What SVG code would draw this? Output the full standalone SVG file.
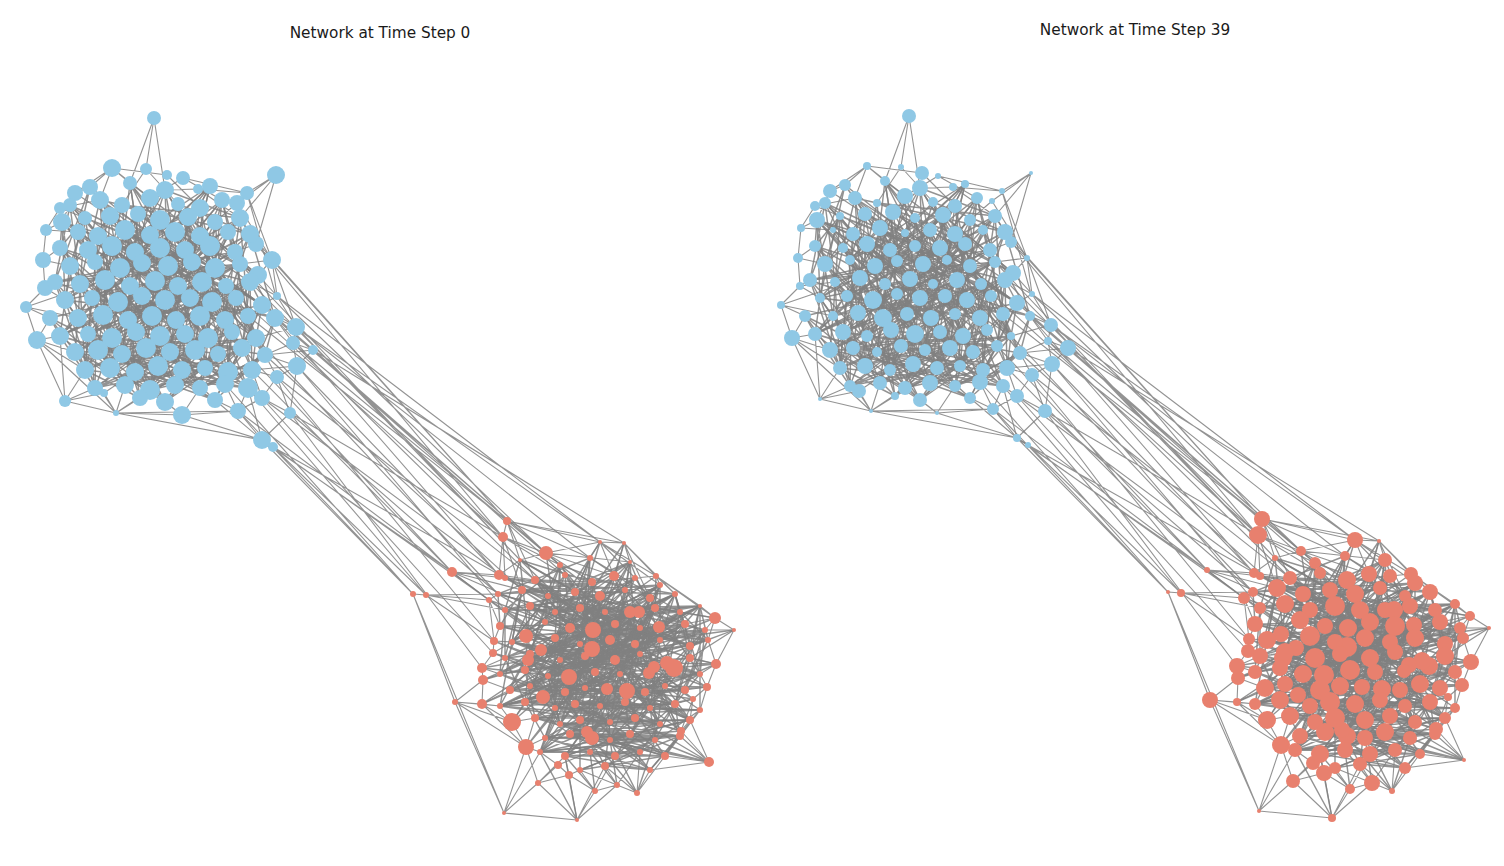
<svg xmlns="http://www.w3.org/2000/svg" xmlns:xlink="http://www.w3.org/1999/xlink" width="1504" height="866" viewBox="0 0 1504 866">
<style>
.e{fill:none;stroke:#808080;stroke-width:1.1;stroke-opacity:0.85;stroke-linejoin:bevel}
.d{stroke-width:1.45}
.b circle{fill:#8fc8e5}
.r circle{fill:#e8806e}
.t{font-family:"DejaVu Sans","Liberation Sans",sans-serif;font-size:15.3px;fill:#1a1a1a;text-anchor:middle}
</style>
<rect width="1504" height="866" fill="#ffffff"/>
<text class="t" x="380" y="38">Network at Time Step 0</text>
<text class="t" x="1135" y="35">Network at Time Step 39</text>
<g id="connectors">
<g id="edgesL">
<path class="e d" d="M90,187L150,235L110,216L185,250L130,183L200,236L122,205L240,218L165,190L226,286L178,204L250,234L100,200L160,248L70,205L135,252L62,222L192,262L85,218L215,268L138,214L258,275L188,217L142,263L222,200L168,266L210,186L120,268L200,208L95,262"/>
<path class="e d" d="M78,232L155,281L98,236L202,282L125,230L178,286L60,248L130,286L88,250L226,286L112,246L250,282L175,232L105,280L228,232L80,284L210,246L55,282L235,252L142,296L240,264L65,300L160,248L236,298L150,235L262,305L185,250L92,298L215,268L118,302"/>
<path class="e d" d="M50,318L142,296L78,318L165,300L103,315L190,298L128,320L212,302L152,316L92,298L176,320L118,302L200,316L65,300L225,320L155,281L248,316L130,286L275,318L178,286L60,336L105,280L88,334L202,282L112,338L80,284L136,332L226,286L160,336L250,282"/>
<path class="e d" d="M185,334L98,350L208,338L122,354L232,332L146,348L256,338L170,352L75,352L195,350L88,334L218,354L112,338L242,348L136,332L265,355L160,336L85,370L185,334L110,368L208,338L135,372L232,332L158,366L60,336L182,370L256,338L205,368L98,350L228,372"/>
<path class="e d" d="M122,354L252,370L146,348L95,388L170,352L125,385L195,350L150,390L218,354L175,385L242,348L200,388L265,355L225,384L75,352L248,388L85,370L140,398L110,368L165,402L135,372L215,400L158,366L95,388L182,370L125,385L205,368L150,390L228,372L175,385"/>
<path class="e d" d="M62,222L78,318L85,218L103,315L110,216L128,320L138,214L152,316L160,220L176,320L188,217L200,316L215,222L225,320L240,218L248,316L222,200L202,282L178,204L155,281L150,198L130,286L122,205L105,280L100,200L80,284L70,205L55,282L90,187L65,300"/>
<path class="e d" d="M130,183L142,263L165,190L168,266L210,186L192,262L200,208L215,268L222,200L240,264L188,217L258,275L160,220L120,268L138,214L95,262L110,216L70,266L85,218L60,248L62,222L88,250L98,236L135,252L125,230L160,248L175,232L185,250L200,236L210,246"/>
<path class="e d" d="M65,300L88,334L92,298L112,338L118,302L136,332L142,296L160,336L165,300L185,334L190,298L208,338L212,302L232,332L236,298L256,338L262,305L242,348L250,282L218,354L226,286L195,350L202,282L170,352L178,286L146,348L155,281L122,354L130,286L98,350"/>
<path class="e d" d="M50,318L75,352L78,318L98,350L103,315L122,354L128,320L146,348L152,316L170,352L176,320L195,350L200,316L218,354L225,320L242,348L248,316L265,355L275,318L252,370L256,338L228,372L232,332L205,368L208,338L182,370L185,334L158,366L160,336L135,372"/>
<path class="e d" d="M136,332L110,368L112,338L85,370L88,334L95,388L60,336L125,385L75,352L150,390L98,350L175,385L122,354L200,388L146,348L225,384L170,352L248,388L195,350L140,398L218,354L165,402L242,348L215,400L265,355L200,388L252,370L225,384L228,372L248,388"/>
<path class="e d" d="M70,205L176,320L240,218L92,298L210,186L118,302L250,234L60,336L200,208L136,332L262,305L100,200L185,334L78,232L232,332L130,183L208,338L55,282L240,264L88,334L226,286L75,352L215,222L160,336L62,222L195,350L165,190L256,338L98,236L242,348"/>
<path class="e d" d="M150,235L110,368L175,232L135,372L200,236L158,366L228,232L182,370L250,234L205,368L125,230L85,370L98,236L95,388L142,263L125,385L168,266L150,390L192,262L175,385L215,268L200,388L240,264L225,384L120,268L140,398L95,262L165,402L70,266L215,400"/>
<path class="e d" d="M90,187L142,263L130,183L120,268L165,190L95,262L210,186L192,262L222,200L142,296L240,218L165,300L70,205L118,302L100,200L190,298L150,198L92,298L178,204L212,302L200,208L65,300L62,222L236,298L110,216L262,305L138,214L78,318L188,217L103,315"/>
<path class="e d" d="M78,232L128,320L98,236L152,316L125,230L176,320L150,235L200,316L175,232L225,320L200,236L248,316L228,232L275,318L250,234L136,332L60,248L160,336L88,250L185,334L112,246L208,338L135,252L232,332L160,248L256,338L185,250L112,338L210,246L88,334"/>
<path class="e d" d="M235,252L60,336L70,266L146,348L95,262L170,352L120,268L195,350L142,263L218,354L168,266L242,348L192,262L265,355L215,268L75,352L240,264L98,350L258,275L122,354L55,282L85,370L80,284L110,368L105,280L135,372L130,286L158,366L155,281L182,370"/>
<path class="e d" d="M178,286L205,368L202,282L228,372L226,286L252,370L250,282L95,388L65,300L125,385L92,298L150,390L118,302L175,385L142,296L200,388L165,300L225,384L190,298L248,388L212,302L140,398L236,298L165,402L262,305L215,400L50,318L110,368L78,318L135,372"/>
<path class="e d" d="M62,222L78,232L85,218L98,236L110,216L125,230L138,214L150,235L160,220L175,232L188,217L200,236L215,222L228,232L240,218L250,234M60,248L70,266L88,250L95,262L112,246L120,268L135,252L142,263L160,248L168,266L185,250L192,262L210,246L215,268L235,252L240,264M55,282L65,300L80,284L92,298L105,280L118,302L130,286L142,296L155,281L165,300L178,286L190,298L202,282L212,302L226,286L236,298L250,282L262,305M50,318L60,336L78,318L88,334L103,315L112,338L128,320L136,332L152,316L160,336L176,320L185,334L200,316L208,338L225,320L232,332L248,316L256,338M75,352L85,370L98,350L110,368L122,354L135,372L146,348L158,366L170,352L182,370L195,350L205,368L218,354L228,372L242,348L252,370"/>
<path class="e" d="M154,118L130,183M154,118L146,169M154,118L165,190M112,168L90,187M112,168L130,183M112,168L150,198M112,168L75,193M112,168L167,175M112,168L100,200M146,169L122,205M146,169L178,204M167,175L200,208M183,178L222,200M183,178L150,198M198,189L240,218M198,189L165,190M198,189L247,193M276,175L247,193M276,175L237,203M276,175L240,218M276,175L256,244M247,193L183,178M247,193L272,260M237,203L215,222M237,203L272,260M75,193L90,187M75,193L62,222M75,193L110,216M60,208L85,218M60,208L46,230M60,208L100,200M46,230L78,232M46,230L43,260M46,230L62,222M43,260L60,248M43,260L70,266M43,260L45,288M45,288L80,284M45,288L26,307M45,288L65,300M45,288L55,282M26,307L50,318M26,307L78,318M26,307L37,340M26,307L105,280M37,340L60,336M37,340L75,352M37,340L65,401M37,340L50,318M37,340L85,370M37,340L116,413M65,401L104,393M65,401L116,413M65,401L85,370M65,401L95,388M65,401L60,336M116,413L104,393M116,413L125,385M116,413L150,390M116,413L182,415M116,413L262,440M116,413L140,398M116,413L75,352M116,413L238,411M104,393L95,388M104,393L135,372M182,415L165,402M182,415L200,388M182,415L238,411M182,415L262,440M182,415L150,390M238,411L215,400M238,411L262,398M238,411L248,388M238,411L262,440M238,411L225,384M262,398L252,370M262,398L290,413M262,398L277,377M262,398L248,388M290,413L277,377M290,413L262,440M290,413L297,366M262,440L273,447M262,440L215,400M262,440L248,388M297,366L277,377M297,366L265,355M297,366L313,350M297,366L293,343M297,366L252,370M296,327L275,318M296,327L262,305M296,327L293,343M296,327L277,296M296,327L256,338M313,350L293,343M313,350L265,355M277,296L262,305M277,296L250,282M277,296L272,260M277,296L258,275M272,260L258,275M272,260L240,264M272,260L256,244M272,260L296,327M256,244L235,252M256,244L240,218M256,244L250,234M277,377L252,370M277,377L265,355M293,343L265,355M293,343L275,318M247,193L276,296"/>
<path class="e" d="M272,260L507,521M256,244L503,537M277,296L546,553M296,327L600,542M296,327L520,560M293,343L507,521M313,350L560,565M297,366L499,575M277,377L535,580M262,398L505,578M290,413L503,537M262,440L413,594M273,447L426,595M262,440L452,572M238,411L413,594M273,447L489,600M290,413L498,594M250,282L503,537M262,305L546,553M275,318L499,575M265,355L522,590M248,388L426,595M252,370L452,572M240,264L520,560M248,316L507,521M277,296L600,542M313,350L624,543M297,366L505,610M277,377L494,641M262,398L493,653M290,413L482,668M273,447L505,578M238,411L489,600M293,343L535,580M275,318L560,565M256,338L498,594M242,348L452,572M225,384L413,594M226,286L503,537M250,234L507,521M296,327L590,558M313,350L565,575"/>
<path class="e d" d="M520,560L592,582L535,580L625,590L505,578L600,596L560,565L650,598L590,558L575,592L630,562L548,596L565,575L675,594L522,590L635,578L498,594L660,585L530,606L580,608L555,612L655,608L505,610L605,612L680,612L545,622L700,606L570,628L615,624L500,626"/>
<path class="e d" d="M640,628L512,642L685,624L555,638L705,630L580,644L610,640L530,654L635,644L505,658L660,640L560,660L690,646L585,656L708,640L615,660L500,674L640,654L525,670L690,658L548,676L595,672L620,674L700,674L510,690L645,692L530,686L665,686L565,692L685,690"/>
<path class="e d" d="M585,688L500,706L625,702L525,702L650,708L555,708L675,704L575,704L700,710L600,706L535,718L635,718L560,724L660,724L580,720L690,720L610,722L545,738L630,734L570,734L655,740L610,740L680,736L540,752L640,752L565,756L665,756L590,752L615,756L580,770"/>
<path class="e d" d="M605,766L650,770L565,756L630,734L540,752L655,740L545,738L680,736L570,734L640,752L610,740L690,720L560,724L665,756L535,718L700,710L555,708L660,724L525,702L635,718L500,706L610,722L580,720L650,708L575,704L625,702L600,706L675,704L585,688L645,692"/>
<path class="e d" d="M520,560L505,610L560,565L555,638L590,558L580,644L630,562L635,644L660,585L660,640L675,594L690,646L700,606L708,640L680,612L685,624L655,608L640,628L605,612L615,624L580,608L570,628L530,606L545,622L498,594L500,626L522,590L512,642L548,596L530,654"/>
<path class="e d" d="M505,658L525,702L530,654L555,708L560,660L575,704L585,656L600,706L615,660L625,702L640,654L650,708L690,658L675,704L700,674L700,710L665,686L690,720L645,692L660,724L620,674L635,718L595,672L610,722L565,692L580,720L548,676L560,724L525,670L535,718"/>
<path class="e d" d="M500,626L700,674L512,642L685,690L522,590L665,686L535,580L645,692L565,575L620,674L592,582L595,672L635,578L548,676L660,585L525,670L650,598L500,674L675,594L510,690L700,606L530,686L708,640L565,692L705,630L585,688L685,624L500,706L680,612L525,702"/>
<path class="e d" d="M555,612L690,720L580,608L660,724L605,612L635,718L630,612L610,722L655,608L580,720L593,630L560,724L592,649L535,718L569,677L545,738L627,691L570,734L607,689L610,740L674,668L630,734L667,663L655,740L654,667L680,736L649,673L540,752L659,627L565,756"/>
<path class="e d" d="M593,630L526,636L592,649L541,650L569,677L528,660L627,691L543,697L607,689L592,738L674,668L587,732L667,663L630,612L654,667L639,612L649,673L614,576L659,627L593,630L630,612L592,649L639,612L569,677L614,576L526,636L659,627L541,650L674,668L528,660"/>
<path class="e d" d="M505,578L640,654L530,606L690,658L555,612L615,660L500,626L660,640L545,622L708,640L570,628L505,658L615,624L530,654L685,624L560,660L640,628L585,656L705,630L548,676L600,596L525,670L625,590L595,672L650,598L620,674L675,594L700,674L635,578L500,674"/>
<path class="e d" d="M560,565L610,640L535,580L580,644L592,582L512,642L630,562L555,638L660,585L635,644L575,592L690,646L548,596L660,640L498,594L590,558L680,612L522,590L655,608L605,612L700,606L580,608L650,598L555,612L625,590L530,606L600,596L505,610L575,592L520,560"/>
<path class="e d" d="M510,690L600,706L530,686L625,702L565,692L650,708L585,688L675,704L645,692L555,708L665,686L525,702L685,690L575,704L700,674L500,706L620,674L535,718L595,672L560,724L548,676L580,720L525,670L610,722L500,674L635,718L505,658L660,724L530,654L690,720"/>
<path class="e d" d="M545,738L635,718L570,734L660,724L610,740L690,720L630,734L535,718L655,740L560,724L680,736L580,720L540,752L610,722L565,756L630,734L590,752L545,738L615,756L570,734L640,752L610,740L665,756L580,770L655,740L605,766L680,736L650,770L590,752L540,752"/>
<path class="e d" d="M520,560L530,654L560,565L560,660L590,558L585,656L630,562L615,660L660,585L640,654L675,594L690,658L700,606L700,674L705,630L685,690L708,640L675,704L690,646L650,708L660,640L625,702L635,644L600,706L610,640L575,704L580,644L555,708L555,638L525,702"/>
<path class="e d" d="M512,642L500,706L545,622L510,690L570,628L530,686L615,624L565,692L640,628L585,688L685,624L645,692L705,630L665,686L680,612L620,674L655,608L595,672L605,612L548,676L580,608L525,670L530,606L500,674L505,610L505,658L522,590L512,642L548,596L545,622"/>
<path class="e d" d="M600,706L565,756L625,702L590,752L650,708L615,756L675,704L640,752L700,710L665,756L575,704L540,752L555,708L545,738L525,702L570,734L600,706L610,740L625,702L630,734L650,708L655,740L675,704L680,736L700,710L650,770L610,722L605,766L580,720L580,770"/>
<path class="e d" d="M593,630L540,752L592,649L665,756L569,677L700,606L627,691L505,610L607,689L630,562L674,668L500,706L667,663L535,580L654,667L512,642L649,673L560,565L526,636L690,720L541,650L675,594L528,660L650,770L543,697L640,628L592,738L600,596L587,732L700,674"/>
<path class="e d" d="M630,612L526,747L639,612L512,722L614,576L543,697L659,627L482,704L593,630L483,680L592,649L482,668L569,677L493,653L627,691L494,641L607,689L489,600L674,668L716,664L667,663L707,687L654,667L693,699L649,673L681,731L592,738L709,762L587,732L637,793"/>
<path class="e d" d="M546,553L555,612L600,542L580,608L624,543L605,612L656,576L655,608L715,618L660,640L734,630L690,658L716,664L665,686L707,687L645,692L693,699L650,708L681,731L635,718L709,762L655,740L637,793L610,740L617,785L590,752L595,791L565,756L577,820L540,752"/>
<path class="e d" d="M505,610L700,674L530,606L675,704L555,612L650,708L580,608L625,702L605,612L600,706L655,608L575,704L680,612L555,708L700,606L525,702L685,624L500,706L660,640L510,690L635,644L530,686L610,640L565,692L580,644L585,688L555,638L645,692L512,642L665,686"/>
<path class="e d" d="M498,594L690,646L522,590L708,640L548,596L705,630L575,592L685,624L600,596L660,640L625,590L635,644L650,598L610,640L675,594L580,644L660,585L555,638L635,578L512,642L592,582L545,622L565,575L570,628L535,580L615,624L505,578L640,628L520,560L593,630"/>
<path class="e" d="M507,521L520,560M507,521L560,565M507,521L546,553M507,521L503,537M507,521L600,542M507,521L535,580M507,521L590,558M507,521L624,543M503,537L505,578M503,537L499,575M503,537L565,575M503,537L546,553M503,537L522,590M503,537L560,565M546,553L600,542M546,553L592,582M546,553L630,562M546,553L614,576M546,553L520,560M600,542L624,543M600,542L635,578M600,542L614,576M600,542L656,576M600,542L660,585M600,542L590,558M624,543L656,576M624,543L630,562M624,543L675,594M624,543L614,576M624,543L650,598M656,576L675,594M656,576L700,606M656,576L715,618M656,576L660,585M656,576L635,578M715,618L734,630M715,618L700,606M715,618L705,630M715,618L708,640M715,618L680,612M715,618L685,624M734,630L716,664M734,630L708,640M734,630L690,646M734,630L705,630M716,664L707,687M716,664L700,674M716,664L690,658M716,664L708,640M707,687L693,699M707,687L685,690M707,687L700,710M707,687L700,674M693,699L681,731M693,699L675,704M693,699L690,720M681,731L709,762M681,731L690,720M681,731L680,736M681,731L665,756M681,731L660,724M709,762L665,756M709,762L690,720M709,762L680,736M709,762L650,770M637,793L650,770M637,793L617,785M637,793L665,756M637,793L605,766M637,793L640,752M617,785L605,766M617,785L595,791M617,785L640,752M617,785L580,770M595,791L577,820M595,791L580,770M595,791L569,775M595,791L615,756M577,820L538,783M577,820L504,813M577,820L569,775M577,820L617,785M577,820L605,766M504,813L538,783M504,813L526,747M504,813L540,752M538,783L558,765M538,783L526,747M538,783L565,756M538,783L569,775M558,765L540,752M558,765L590,752M558,765L569,775M569,775L580,770M569,775L565,756M526,747L512,722M526,747L545,738M526,747L540,752M526,747L535,718M526,747L482,704M512,722L535,718M512,722L525,702M512,722L482,704M512,722L500,706M512,722L455,702M455,702L482,704M455,702L413,594M455,702L483,680M455,702L500,706M455,702L526,747M455,702L504,813M413,594L504,813M413,594L426,595M413,594L489,600M426,595L489,600M426,595L505,610M426,595L498,594M426,595L494,641M452,572L499,575M452,572L505,578M452,572L489,600M452,572L522,590M452,572L530,606M482,704L483,680M482,704L500,706M482,704L510,690M483,680L482,668M483,680L500,674M483,680L510,690M482,668L493,653M482,668L505,658M482,668L500,674M493,653L494,641M493,653L505,658M493,653L512,642M494,641L500,626M494,641L512,642M494,641L489,600M489,600L498,594M489,600L505,610M489,600L500,626M499,575L505,578M499,575L520,560M499,575L535,580"/>
</g>
<use href="#edgesL" xlink:href="#edgesL" transform="translate(755,-2)"/>
</g>
<g id="left-blue-nodes" class="b">
<circle cx="154" cy="118" r="7"/><circle cx="112" cy="168" r="9"/><circle cx="146" cy="169" r="6"/><circle cx="167" cy="175" r="5"/><circle cx="183" cy="178" r="7"/><circle cx="198" cy="189" r="5"/><circle cx="276" cy="175" r="9"/><circle cx="247" cy="193" r="7"/><circle cx="237" cy="203" r="8"/><circle cx="75" cy="193" r="8"/><circle cx="60" cy="208" r="6"/><circle cx="46" cy="230" r="6"/><circle cx="43" cy="260" r="8"/><circle cx="45" cy="288" r="8"/><circle cx="26" cy="307" r="6"/><circle cx="37" cy="340" r="9"/><circle cx="65" cy="401" r="6"/><circle cx="116" cy="413" r="3"/><circle cx="104" cy="393" r="4"/><circle cx="182" cy="415" r="9"/><circle cx="238" cy="411" r="8"/><circle cx="262" cy="398" r="8"/><circle cx="290" cy="413" r="6"/><circle cx="262" cy="440" r="9"/><circle cx="273" cy="447" r="5"/><circle cx="297" cy="366" r="9"/><circle cx="296" cy="327" r="9"/><circle cx="313" cy="350" r="5"/><circle cx="277" cy="296" r="4"/><circle cx="272" cy="260" r="9"/><circle cx="256" cy="244" r="8"/><circle cx="277" cy="377" r="7"/><circle cx="293" cy="343" r="7"/>
<circle cx="90" cy="187" r="8"/><circle cx="130" cy="183" r="7"/><circle cx="165" cy="190" r="9"/><circle cx="210" cy="186" r="8"/><circle cx="70" cy="205" r="7"/><circle cx="100" cy="200" r="9"/><circle cx="122" cy="205" r="8"/><circle cx="150" cy="198" r="9"/><circle cx="178" cy="204" r="7"/><circle cx="200" cy="208" r="9"/><circle cx="222" cy="200" r="8"/><circle cx="62" cy="222" r="9"/><circle cx="85" cy="218" r="7"/><circle cx="110" cy="216" r="9"/><circle cx="138" cy="214" r="8"/><circle cx="160" cy="220" r="10"/><circle cx="188" cy="217" r="9"/><circle cx="215" cy="222" r="8"/><circle cx="240" cy="218" r="9"/>
<circle cx="78" cy="232" r="8"/><circle cx="98" cy="236" r="9"/><circle cx="125" cy="230" r="10"/><circle cx="150" cy="235" r="9"/><circle cx="175" cy="232" r="10"/><circle cx="200" cy="236" r="9"/><circle cx="228" cy="232" r="8"/><circle cx="250" cy="234" r="9"/><circle cx="60" cy="248" r="8"/><circle cx="88" cy="250" r="9"/><circle cx="112" cy="246" r="10"/><circle cx="135" cy="252" r="9"/><circle cx="160" cy="248" r="10"/><circle cx="185" cy="250" r="9"/><circle cx="210" cy="246" r="10"/><circle cx="235" cy="252" r="8"/>
<circle cx="70" cy="266" r="9"/><circle cx="95" cy="262" r="8"/><circle cx="120" cy="268" r="10"/><circle cx="142" cy="263" r="9"/><circle cx="168" cy="266" r="10"/><circle cx="192" cy="262" r="9"/><circle cx="215" cy="268" r="10"/><circle cx="240" cy="264" r="8"/><circle cx="258" cy="275" r="9"/><circle cx="55" cy="282" r="8"/><circle cx="80" cy="284" r="9"/><circle cx="105" cy="280" r="10"/><circle cx="130" cy="286" r="9"/><circle cx="155" cy="281" r="10"/><circle cx="178" cy="286" r="9"/><circle cx="202" cy="282" r="10"/><circle cx="226" cy="286" r="8"/><circle cx="250" cy="282" r="9"/>
<circle cx="65" cy="300" r="9"/><circle cx="92" cy="298" r="8"/><circle cx="118" cy="302" r="10"/><circle cx="142" cy="296" r="9"/><circle cx="165" cy="300" r="10"/><circle cx="190" cy="298" r="9"/><circle cx="212" cy="302" r="10"/><circle cx="236" cy="298" r="8"/><circle cx="262" cy="305" r="9"/><circle cx="50" cy="318" r="8"/><circle cx="78" cy="318" r="9"/><circle cx="103" cy="315" r="10"/><circle cx="128" cy="320" r="9"/><circle cx="152" cy="316" r="10"/><circle cx="176" cy="320" r="9"/><circle cx="200" cy="316" r="10"/><circle cx="225" cy="320" r="9"/><circle cx="248" cy="316" r="8"/><circle cx="275" cy="318" r="9"/>
<circle cx="60" cy="336" r="9"/><circle cx="88" cy="334" r="8"/><circle cx="112" cy="338" r="10"/><circle cx="136" cy="332" r="9"/><circle cx="160" cy="336" r="10"/><circle cx="185" cy="334" r="9"/><circle cx="208" cy="338" r="10"/><circle cx="232" cy="332" r="8"/><circle cx="256" cy="338" r="9"/><circle cx="75" cy="352" r="9"/><circle cx="98" cy="350" r="10"/><circle cx="122" cy="354" r="9"/><circle cx="146" cy="348" r="10"/><circle cx="170" cy="352" r="9"/><circle cx="195" cy="350" r="10"/><circle cx="218" cy="354" r="8"/><circle cx="242" cy="348" r="9"/><circle cx="265" cy="355" r="8"/>
<circle cx="85" cy="370" r="9"/><circle cx="110" cy="368" r="10"/><circle cx="135" cy="372" r="9"/><circle cx="158" cy="366" r="10"/><circle cx="182" cy="370" r="9"/><circle cx="205" cy="368" r="8"/><circle cx="228" cy="372" r="10"/><circle cx="252" cy="370" r="9"/><circle cx="95" cy="388" r="8"/><circle cx="125" cy="385" r="9"/><circle cx="150" cy="390" r="10"/><circle cx="175" cy="385" r="9"/><circle cx="200" cy="388" r="8"/><circle cx="225" cy="384" r="9"/><circle cx="248" cy="388" r="10"/><circle cx="140" cy="398" r="8"/><circle cx="165" cy="402" r="9"/><circle cx="215" cy="400" r="8"/>
</g>
<g id="left-red-nodes" class="r">
<circle cx="507" cy="521" r="4"/><circle cx="503" cy="537" r="5"/><circle cx="452" cy="572" r="5"/><circle cx="413" cy="594" r="3"/><circle cx="426" cy="595" r="3"/><circle cx="499" cy="575" r="5"/><circle cx="546" cy="553" r="7"/><circle cx="600" cy="542" r="2"/><circle cx="624" cy="543" r="2"/><circle cx="656" cy="576" r="3"/><circle cx="715" cy="618" r="6"/><circle cx="734" cy="630" r="2"/><circle cx="716" cy="664" r="5"/><circle cx="707" cy="687" r="4"/><circle cx="693" cy="699" r="3"/><circle cx="681" cy="731" r="4"/><circle cx="709" cy="762" r="5"/><circle cx="637" cy="793" r="3"/><circle cx="577" cy="820" r="2"/><circle cx="504" cy="813" r="2"/><circle cx="538" cy="783" r="3"/><circle cx="558" cy="765" r="4"/><circle cx="569" cy="775" r="4"/><circle cx="595" cy="791" r="3"/><circle cx="617" cy="785" r="3"/><circle cx="526" cy="747" r="8"/><circle cx="512" cy="722" r="9"/><circle cx="482" cy="704" r="5"/><circle cx="455" cy="702" r="3"/><circle cx="483" cy="680" r="5"/><circle cx="482" cy="668" r="5"/><circle cx="493" cy="653" r="4"/><circle cx="494" cy="641" r="4"/><circle cx="489" cy="600" r="3"/>
<circle cx="593" cy="630" r="8"/><circle cx="592" cy="649" r="8"/><circle cx="569" cy="677" r="8"/><circle cx="627" cy="691" r="8"/><circle cx="607" cy="689" r="6"/><circle cx="674" cy="668" r="9"/><circle cx="667" cy="663" r="7"/><circle cx="654" cy="667" r="6"/><circle cx="649" cy="673" r="6"/><circle cx="526" cy="636" r="7"/><circle cx="541" cy="650" r="6"/><circle cx="528" cy="660" r="6"/><circle cx="543" cy="697" r="7"/><circle cx="592" cy="738" r="7"/><circle cx="587" cy="732" r="6"/><circle cx="630" cy="612" r="6"/><circle cx="639" cy="612" r="6"/><circle cx="614" cy="576" r="5"/><circle cx="659" cy="627" r="6"/>
<circle cx="520" cy="560" r="2"/><circle cx="560" cy="565" r="3"/><circle cx="590" cy="558" r="3"/><circle cx="630" cy="562" r="2"/><circle cx="505" cy="578" r="3"/><circle cx="535" cy="580" r="4"/><circle cx="565" cy="575" r="3"/><circle cx="592" cy="582" r="4"/><circle cx="635" cy="578" r="3"/><circle cx="660" cy="585" r="3"/><circle cx="498" cy="594" r="3"/><circle cx="522" cy="590" r="4"/><circle cx="548" cy="596" r="3"/><circle cx="575" cy="592" r="4"/><circle cx="600" cy="596" r="5"/><circle cx="625" cy="590" r="3"/><circle cx="650" cy="598" r="4"/><circle cx="675" cy="594" r="3"/>
<circle cx="505" cy="610" r="3"/><circle cx="530" cy="606" r="4"/><circle cx="555" cy="612" r="3"/><circle cx="580" cy="608" r="4"/><circle cx="605" cy="612" r="3"/><circle cx="655" cy="608" r="4"/><circle cx="680" cy="612" r="3"/><circle cx="700" cy="606" r="2"/><circle cx="500" cy="626" r="4"/><circle cx="545" cy="622" r="3"/><circle cx="570" cy="628" r="5"/><circle cx="615" cy="624" r="4"/><circle cx="640" cy="628" r="3"/><circle cx="685" cy="624" r="4"/><circle cx="705" cy="630" r="3"/>
<circle cx="512" cy="642" r="3"/><circle cx="555" cy="638" r="4"/><circle cx="580" cy="644" r="3"/><circle cx="610" cy="640" r="5"/><circle cx="635" cy="644" r="4"/><circle cx="660" cy="640" r="3"/><circle cx="690" cy="646" r="4"/><circle cx="708" cy="640" r="3"/><circle cx="505" cy="658" r="3"/><circle cx="530" cy="654" r="4"/><circle cx="560" cy="660" r="3"/><circle cx="585" cy="656" r="4"/><circle cx="615" cy="660" r="5"/><circle cx="640" cy="654" r="3"/><circle cx="690" cy="658" r="4"/>
<circle cx="500" cy="674" r="3"/><circle cx="525" cy="670" r="4"/><circle cx="548" cy="676" r="3"/><circle cx="595" cy="672" r="4"/><circle cx="620" cy="674" r="3"/><circle cx="700" cy="674" r="3"/><circle cx="510" cy="690" r="4"/><circle cx="530" cy="686" r="3"/><circle cx="565" cy="692" r="4"/><circle cx="585" cy="688" r="3"/><circle cx="645" cy="692" r="4"/><circle cx="665" cy="686" r="3"/><circle cx="685" cy="690" r="4"/>
<circle cx="500" cy="706" r="3"/><circle cx="525" cy="702" r="4"/><circle cx="555" cy="708" r="3"/><circle cx="575" cy="704" r="4"/><circle cx="600" cy="706" r="3"/><circle cx="625" cy="702" r="4"/><circle cx="650" cy="708" r="3"/><circle cx="675" cy="704" r="4"/><circle cx="700" cy="710" r="3"/><circle cx="535" cy="718" r="4"/><circle cx="560" cy="724" r="3"/><circle cx="580" cy="720" r="4"/><circle cx="610" cy="722" r="3"/><circle cx="635" cy="718" r="4"/><circle cx="660" cy="724" r="3"/><circle cx="690" cy="720" r="4"/>
<circle cx="545" cy="738" r="3"/><circle cx="570" cy="734" r="4"/><circle cx="610" cy="740" r="3"/><circle cx="630" cy="734" r="4"/><circle cx="655" cy="740" r="3"/><circle cx="680" cy="736" r="4"/><circle cx="540" cy="752" r="3"/><circle cx="565" cy="756" r="4"/><circle cx="590" cy="752" r="3"/><circle cx="615" cy="756" r="4"/><circle cx="640" cy="752" r="3"/><circle cx="665" cy="756" r="4"/><circle cx="580" cy="770" r="3"/><circle cx="605" cy="766" r="4"/><circle cx="650" cy="770" r="3"/>
</g>
<g id="right-blue-nodes" class="b" transform="translate(755,-2)">
<circle cx="154" cy="118" r="7"/><circle cx="112" cy="168" r="4"/><circle cx="146" cy="169" r="3"/><circle cx="167" cy="175" r="7"/><circle cx="183" cy="178" r="3"/><circle cx="198" cy="189" r="4"/><circle cx="276" cy="175" r="2"/><circle cx="247" cy="193" r="3"/><circle cx="237" cy="203" r="3"/><circle cx="75" cy="193" r="7"/><circle cx="60" cy="208" r="5"/><circle cx="46" cy="230" r="4"/><circle cx="43" cy="260" r="5"/><circle cx="45" cy="288" r="4"/><circle cx="26" cy="307" r="4"/><circle cx="37" cy="340" r="8"/><circle cx="65" cy="401" r="2"/><circle cx="116" cy="413" r="2"/><circle cx="104" cy="393" r="7"/><circle cx="182" cy="415" r="2"/><circle cx="238" cy="411" r="6"/><circle cx="262" cy="398" r="7"/><circle cx="290" cy="413" r="7"/><circle cx="262" cy="440" r="4"/><circle cx="273" cy="447" r="3"/><circle cx="297" cy="366" r="8"/><circle cx="296" cy="327" r="7"/><circle cx="313" cy="350" r="8"/><circle cx="277" cy="296" r="3"/><circle cx="272" cy="260" r="3"/><circle cx="256" cy="244" r="6"/><circle cx="277" cy="377" r="7"/><circle cx="293" cy="343" r="4"/>
<circle cx="90" cy="187" r="6"/><circle cx="130" cy="183" r="5"/><circle cx="165" cy="190" r="8"/><circle cx="210" cy="186" r="4"/><circle cx="70" cy="205" r="6"/><circle cx="100" cy="200" r="7"/><circle cx="122" cy="205" r="4"/><circle cx="150" cy="198" r="8"/><circle cx="178" cy="204" r="5"/><circle cx="200" cy="208" r="7"/><circle cx="222" cy="200" r="6"/><circle cx="62" cy="222" r="8"/><circle cx="85" cy="218" r="4"/><circle cx="110" cy="216" r="7"/><circle cx="138" cy="214" r="8"/><circle cx="160" cy="220" r="5"/><circle cx="188" cy="217" r="8"/><circle cx="215" cy="222" r="6"/><circle cx="240" cy="218" r="7"/>
<circle cx="78" cy="232" r="3"/><circle cx="98" cy="236" r="7"/><circle cx="125" cy="230" r="8"/><circle cx="150" cy="235" r="4"/><circle cx="175" cy="232" r="7"/><circle cx="200" cy="236" r="8"/><circle cx="228" cy="232" r="5"/><circle cx="250" cy="234" r="8"/><circle cx="60" cy="248" r="6"/><circle cx="88" cy="250" r="5"/><circle cx="112" cy="246" r="8"/><circle cx="135" cy="252" r="7"/><circle cx="160" cy="248" r="6"/><circle cx="185" cy="250" r="8"/><circle cx="210" cy="246" r="7"/><circle cx="235" cy="252" r="7"/>
<circle cx="70" cy="266" r="8"/><circle cx="95" cy="262" r="5"/><circle cx="120" cy="268" r="8"/><circle cx="142" cy="263" r="6"/><circle cx="168" cy="266" r="8"/><circle cx="192" cy="262" r="5"/><circle cx="215" cy="268" r="7"/><circle cx="240" cy="264" r="6"/><circle cx="258" cy="275" r="8"/><circle cx="55" cy="282" r="7"/><circle cx="80" cy="284" r="5"/><circle cx="105" cy="280" r="8"/><circle cx="130" cy="286" r="6"/><circle cx="155" cy="281" r="8"/><circle cx="178" cy="286" r="5"/><circle cx="202" cy="282" r="8"/><circle cx="226" cy="286" r="6"/><circle cx="250" cy="282" r="8"/>
<circle cx="65" cy="300" r="5"/><circle cx="92" cy="298" r="6"/><circle cx="118" cy="302" r="9"/><circle cx="142" cy="296" r="6"/><circle cx="165" cy="300" r="8"/><circle cx="190" cy="298" r="7"/><circle cx="212" cy="302" r="8"/><circle cx="236" cy="298" r="6"/><circle cx="262" cy="305" r="8"/><circle cx="50" cy="318" r="6"/><circle cx="78" cy="318" r="5"/><circle cx="103" cy="315" r="8"/><circle cx="128" cy="320" r="9"/><circle cx="152" cy="316" r="7"/><circle cx="176" cy="320" r="8"/><circle cx="200" cy="316" r="6"/><circle cx="225" cy="320" r="8"/><circle cx="248" cy="316" r="7"/><circle cx="275" cy="318" r="5"/>
<circle cx="60" cy="336" r="7"/><circle cx="88" cy="334" r="8"/><circle cx="112" cy="338" r="6"/><circle cx="136" cy="332" r="8"/><circle cx="160" cy="336" r="9"/><circle cx="185" cy="334" r="7"/><circle cx="208" cy="338" r="8"/><circle cx="232" cy="332" r="6"/><circle cx="256" cy="338" r="4"/><circle cx="75" cy="352" r="8"/><circle cx="98" cy="350" r="7"/><circle cx="122" cy="354" r="5"/><circle cx="146" cy="348" r="7"/><circle cx="170" cy="352" r="6"/><circle cx="195" cy="350" r="8"/><circle cx="218" cy="354" r="7"/><circle cx="242" cy="348" r="6"/><circle cx="265" cy="355" r="7"/>
<circle cx="85" cy="370" r="7"/><circle cx="110" cy="368" r="8"/><circle cx="135" cy="372" r="6"/><circle cx="158" cy="366" r="8"/><circle cx="182" cy="370" r="7"/><circle cx="205" cy="368" r="6"/><circle cx="228" cy="372" r="7"/><circle cx="252" cy="370" r="8"/><circle cx="95" cy="388" r="6"/><circle cx="125" cy="385" r="7"/><circle cx="150" cy="390" r="7"/><circle cx="175" cy="385" r="8"/><circle cx="200" cy="388" r="6"/><circle cx="225" cy="384" r="8"/><circle cx="248" cy="388" r="7"/><circle cx="140" cy="398" r="4"/><circle cx="165" cy="402" r="7"/><circle cx="215" cy="400" r="6"/>
</g>
<g id="right-red-nodes" class="r" transform="translate(755,-2)">
<circle cx="507" cy="521" r="8"/><circle cx="503" cy="537" r="9"/><circle cx="452" cy="572" r="3"/><circle cx="413" cy="594" r="2"/><circle cx="426" cy="595" r="4"/><circle cx="499" cy="575" r="5"/><circle cx="546" cy="553" r="5"/><circle cx="600" cy="542" r="8"/><circle cx="624" cy="543" r="2"/><circle cx="656" cy="576" r="7"/><circle cx="715" cy="618" r="5"/><circle cx="734" cy="630" r="2"/><circle cx="716" cy="664" r="8"/><circle cx="707" cy="687" r="7"/><circle cx="693" cy="699" r="4"/><circle cx="681" cy="731" r="7"/><circle cx="709" cy="762" r="2"/><circle cx="637" cy="793" r="3"/><circle cx="577" cy="820" r="4"/><circle cx="504" cy="813" r="2"/><circle cx="538" cy="783" r="7"/><circle cx="558" cy="765" r="7"/><circle cx="569" cy="775" r="8"/><circle cx="595" cy="791" r="5"/><circle cx="617" cy="785" r="8"/><circle cx="526" cy="747" r="9"/><circle cx="512" cy="722" r="9"/><circle cx="482" cy="704" r="4"/><circle cx="455" cy="702" r="8"/><circle cx="483" cy="680" r="7"/><circle cx="482" cy="668" r="8"/><circle cx="493" cy="653" r="7"/><circle cx="494" cy="641" r="6"/><circle cx="489" cy="600" r="6"/>
<circle cx="593" cy="630" r="9"/><circle cx="592" cy="649" r="10"/><circle cx="569" cy="677" r="10"/><circle cx="627" cy="691" r="9"/><circle cx="607" cy="689" r="8"/><circle cx="674" cy="668" r="9"/><circle cx="667" cy="663" r="9"/><circle cx="654" cy="667" r="8"/><circle cx="649" cy="673" r="7"/><circle cx="526" cy="636" r="8"/><circle cx="541" cy="650" r="8"/><circle cx="528" cy="660" r="9"/><circle cx="543" cy="697" r="8"/><circle cx="592" cy="738" r="9"/><circle cx="587" cy="732" r="8"/><circle cx="630" cy="612" r="8"/><circle cx="639" cy="612" r="9"/><circle cx="614" cy="576" r="8"/><circle cx="659" cy="627" r="8"/>
<circle cx="520" cy="560" r="3"/><circle cx="560" cy="565" r="6"/><circle cx="590" cy="558" r="5"/><circle cx="630" cy="562" r="7"/><circle cx="505" cy="578" r="4"/><circle cx="535" cy="580" r="7"/><circle cx="565" cy="575" r="6"/><circle cx="592" cy="582" r="9"/><circle cx="635" cy="578" r="7"/><circle cx="660" cy="585" r="8"/><circle cx="498" cy="594" r="5"/><circle cx="522" cy="590" r="9"/><circle cx="548" cy="596" r="8"/><circle cx="575" cy="592" r="8"/><circle cx="600" cy="596" r="9"/><circle cx="625" cy="590" r="7"/><circle cx="650" cy="598" r="6"/><circle cx="675" cy="594" r="8"/>
<circle cx="505" cy="610" r="6"/><circle cx="530" cy="606" r="9"/><circle cx="555" cy="612" r="8"/><circle cx="580" cy="608" r="10"/><circle cx="605" cy="612" r="9"/><circle cx="655" cy="608" r="8"/><circle cx="680" cy="612" r="7"/><circle cx="700" cy="606" r="5"/><circle cx="500" cy="626" r="8"/><circle cx="545" cy="622" r="9"/><circle cx="570" cy="628" r="8"/><circle cx="615" cy="624" r="9"/><circle cx="640" cy="628" r="10"/><circle cx="685" cy="624" r="8"/><circle cx="705" cy="630" r="6"/>
<circle cx="512" cy="642" r="9"/><circle cx="555" cy="638" r="10"/><circle cx="580" cy="644" r="8"/><circle cx="610" cy="640" r="9"/><circle cx="635" cy="644" r="8"/><circle cx="660" cy="640" r="9"/><circle cx="690" cy="646" r="8"/><circle cx="708" cy="640" r="6"/><circle cx="505" cy="658" r="8"/><circle cx="530" cy="654" r="9"/><circle cx="560" cy="660" r="10"/><circle cx="585" cy="656" r="8"/><circle cx="615" cy="660" r="9"/><circle cx="640" cy="654" r="8"/><circle cx="690" cy="658" r="9"/>
<circle cx="500" cy="674" r="7"/><circle cx="525" cy="670" r="8"/><circle cx="548" cy="676" r="9"/><circle cx="595" cy="672" r="10"/><circle cx="620" cy="674" r="8"/><circle cx="700" cy="674" r="7"/><circle cx="510" cy="690" r="9"/><circle cx="530" cy="686" r="8"/><circle cx="565" cy="692" r="10"/><circle cx="585" cy="688" r="9"/><circle cx="645" cy="692" r="8"/><circle cx="665" cy="686" r="9"/><circle cx="685" cy="690" r="8"/>
<circle cx="500" cy="706" r="6"/><circle cx="525" cy="702" r="9"/><circle cx="555" cy="708" r="8"/><circle cx="575" cy="704" r="10"/><circle cx="600" cy="706" r="9"/><circle cx="625" cy="702" r="8"/><circle cx="650" cy="708" r="7"/><circle cx="675" cy="704" r="8"/><circle cx="700" cy="710" r="5"/><circle cx="535" cy="718" r="9"/><circle cx="560" cy="724" r="8"/><circle cx="580" cy="720" r="10"/><circle cx="610" cy="722" r="9"/><circle cx="635" cy="718" r="8"/><circle cx="660" cy="724" r="7"/><circle cx="690" cy="720" r="6"/>
<circle cx="545" cy="738" r="8"/><circle cx="570" cy="734" r="9"/><circle cx="610" cy="740" r="8"/><circle cx="630" cy="734" r="9"/><circle cx="655" cy="740" r="7"/><circle cx="680" cy="736" r="6"/><circle cx="540" cy="752" r="7"/><circle cx="565" cy="756" r="9"/><circle cx="590" cy="752" r="8"/><circle cx="615" cy="756" r="8"/><circle cx="640" cy="752" r="7"/><circle cx="665" cy="756" r="5"/><circle cx="580" cy="770" r="6"/><circle cx="605" cy="766" r="7"/><circle cx="650" cy="770" r="6"/>
</g>
</svg>
